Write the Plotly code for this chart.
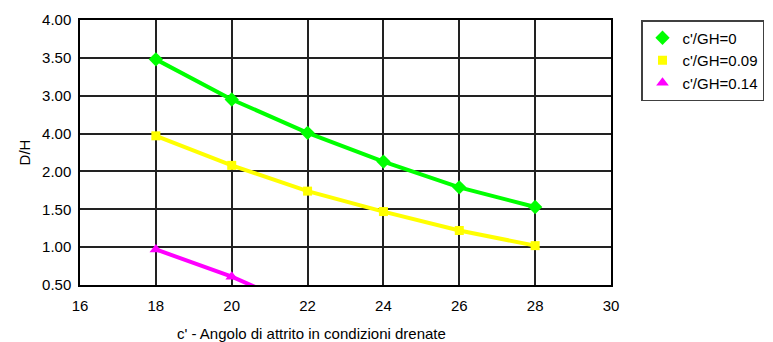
import plotly.graph_objects as go

x_vals = [18, 20, 22, 24, 26, 28]
d_h_c0 = [3.48, 2.95, 2.51, 2.13, 1.79, 1.53]
d_h_c009 = [2.47, 2.08, 1.74, 1.47, 1.22, 1.02]
x_c014 = [18, 20, 22]
d_h_c014 = [0.97, 0.61, 0.17]

series_names = ["c'/GH=0", "c'/GH=0.09", "c'/GH=0.14"]
series_colors = ["#00ff00", "#ffff00", "#ff00ff"]
series_symbols = ["diamond", "square", "triangle-up"]
series_sizes = [11, 9, 11]

y_tickvals = [4.0, 3.5, 3.0, 2.5, 2.0, 1.5, 1.0, 0.5]
y_ticktext = ["4.00", "3.50", "3.00", "4.00", "2.00", "1.50", "1.00", "0.50"]
x_tickvals = [16, 18, 20, 22, 24, 26, 28, 30]

font = "Liberation Sans, Arial, sans-serif"

xs = [x_vals, x_vals, x_c014]
ys = [d_h_c0, d_h_c009, d_h_c014]

fig = go.Figure()
for i in range(3):
    fig.add_trace(go.Scatter(x=xs[i], y=ys[i], name=series_names[i], mode="lines+markers",
                             line=dict(color=series_colors[i], width=4),
                             marker=dict(symbol=series_symbols[i], size=series_sizes[i],
                                         color=series_colors[i]),
                             showlegend=False))
for i in range(3):
    fig.add_trace(go.Scatter(x=[None], y=[None], name=series_names[i], mode="markers",
                             marker=dict(symbol=series_symbols[i], size=series_sizes[i],
                                         color=series_colors[i]),
                             showlegend=True))

# page body has 8px margin -> shrink figure by 8px and offset margins
fig.update_layout(
    width=765, height=334,
    margin=dict(l=72, r=162, t=12, b=57, autoexpand=False),
    paper_bgcolor="white", plot_bgcolor="white",
    font=dict(family=font, size=15, color="black"),
    showlegend=True,
    legend=dict(x=(641 - 80) / 531, y=1.0, xanchor="left", yanchor="top",
                bordercolor="#404040", borderwidth=1.5, bgcolor="white",
                font=dict(family=font, size=15, color="black"),
                tracegroupgap=0),
    xaxis=dict(range=[16, 30], tickvals=x_tickvals, ticktext=[str(v) for v in x_tickvals],
               showgrid=True, gridcolor="#222222", gridwidth=1.5,
               showline=True, linecolor="black", linewidth=1.5, mirror=True,
               zeroline=False, ticks="", ticklen=0, automargin=False,
               ticklabelstandoff=6,
               tickfont=dict(family=font, size=15)),
    yaxis=dict(range=[0.5, 4.0], tickvals=y_tickvals, ticktext=y_ticktext,
               showgrid=True, gridcolor="#222222", gridwidth=1.5,
               showline=True, linecolor="black", linewidth=1.5, mirror=True,
               zeroline=False, ticks="", ticklen=0, automargin=False,
               ticklabelstandoff=4,
               tickfont=dict(family=font, size=15),
               title=dict(text="D/H", font=dict(family=font, size=15), standoff=8)),
)

fig.add_annotation(text="c' - Angolo di attrito in condizioni drenate",
                   xref="paper", yref="paper", x=(311 - 80) / 531, y=(285 - 333) / 265,
                   xanchor="center", yanchor="middle", showarrow=False,
                   font=dict(family=font, size=15, color="black"))

fig.write_html("out.html")
